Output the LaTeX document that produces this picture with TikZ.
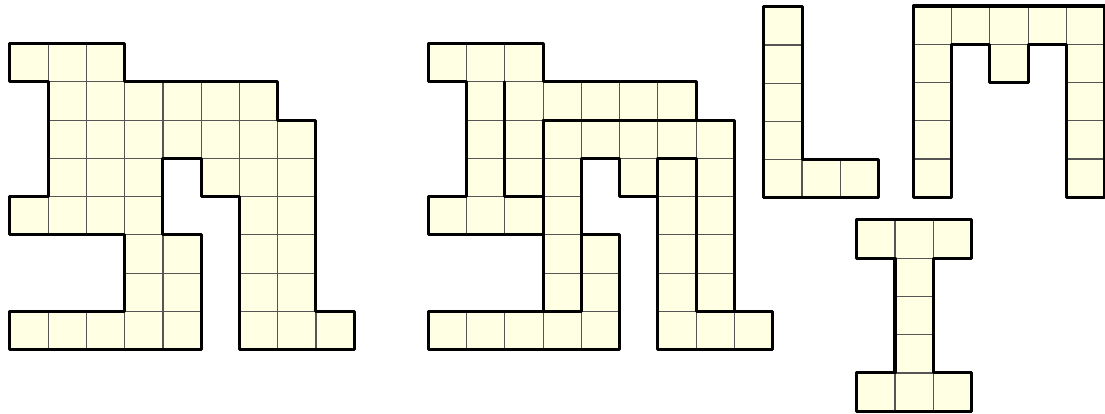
\documentclass[tikz,border=0pt]{standalone}
\usepackage{xcolor}
\usepackage{tikz}
\definecolor{cellYellow}{HTML}{FFFFE3}
\definecolor{gridGray}{HTML}{555555}
% the big shape: cells row by row, then its outline (one unit = one cell, y downwards)
\newcommand{\bigshape}{%
  \foreach \r/\cols in {0/{0,1,2},1/{1,2,3,4,5,6},2/{1,2,3,4,5,6,7},3/{1,2,3,5,6,7},
                        4/{0,1,2,3,6,7},5/{3,4,6,7},6/{3,4,6,7},7/{0,1,2,3,4,6,7,8}}
    \foreach \c in \cols \draw[cell] (\c,\r) rectangle ++(1,1);
  \draw[edge] (0,0) -- (3,0) -- (3,1) -- (7,1) -- (7,2) -- (8,2) -- (8,7) -- (9,7)
    -- (9,8) -- (6,8) -- (6,4) -- (5,4) -- (5,3) -- (4,3) -- (4,5) -- (5,5) -- (5,8)
    -- (0,8) -- (0,7) -- (3,7) -- (3,5) -- (0,5) -- (0,4) -- (1,4) -- (1,1) -- (0,1) -- cycle;
}

\begin{document}
\begin{tikzpicture}[x=0.956cm, y=-0.956cm,
  cell/.style={fill=cellYellow, draw=gridGray, line width=0.85pt},
  edge/.style={line width=2.2pt, line join=round, line cap=round}]
\useasboundingbox (0,0) rectangle (28.89,10.8);
% ---------- left: the whole shape ----------
\begin{scope}[shift={(0.26,1.14)}]
  \bigshape
\end{scope}
% ---------- middle: the same shape cut into pieces ----------
\begin{scope}[shift={(11.2,1.14)}]
  \bigshape
  \draw[edge] (2,1) |- (3,4);
  \draw[edge] (3,2) -- (3,7) -| (4,5);
  \draw[edge] (3,2) -- (7,2);
  \draw[edge] (6,4) |- (7,3) -- (7,7) -- (8,7);
\end{scope}
% ---------- L piece ----------
\begin{scope}[shift={(19.97,0.175)}]
  \foreach \c/\r in {0/0,0/1,0/2,0/3,0/4,1/4,2/4}
    \draw[cell] (\c,\r) rectangle ++(1,1);
  \draw[edge] (0,0) -- (1,0) -- (1,4) -- (3,4) -- (3,5) -- (0,5) -- cycle;
\end{scope}
% ---------- M piece ----------
\begin{scope}[shift={(23.88,0.157)}]
  \foreach \c/\r in {0/0,1/0,2/0,3/0,4/0,0/1,0/2,0/3,0/4,4/1,4/2,4/3,4/4,2/1}
    \draw[cell] (\c,\r) rectangle ++(1,1);
  \draw[edge] (0,0) -- (5,0) -- (5,5) -- (4,5) -- (4,1) -- (3,1) -- (3,2) -- (2,2)
    -- (2,1) -- (1,1) -- (1,5) -- (0,5) -- cycle;
\end{scope}
% ---------- I piece ----------
\begin{scope}[shift={(22.4,5.75)}]
  \foreach \c/\r in {0/0,1/0,2/0,1/1,1/2,1/3,0/4,1/4,2/4}
    \draw[cell] (\c,\r) rectangle ++(1,1);
  \draw[edge] (0,0) -- (3,0) -- (3,1) -- (2,1) -- (2,4) -- (3,4) -- (3,5) -- (0,5)
    -- (0,4) -- (1,4) -- (1,1) -- (0,1) -- cycle;
\end{scope}
\end{tikzpicture}
\end{document}
